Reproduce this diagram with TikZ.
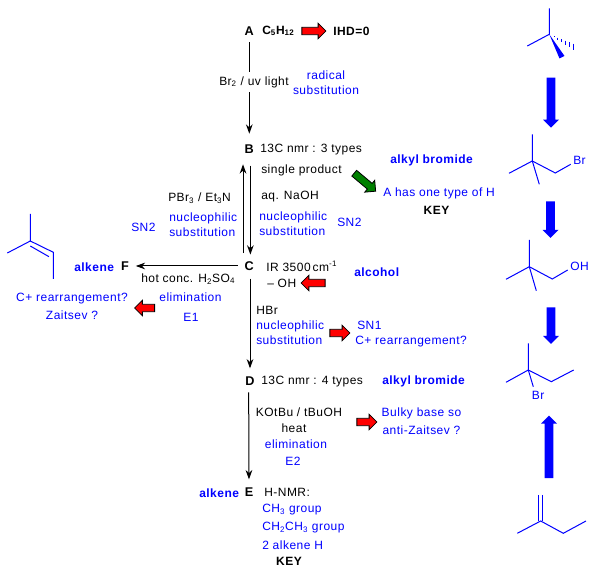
\documentclass[tikz,border=0pt]{standalone}
\usepackage{fontspec}
\setmainfont{Liberation Sans}[LetterSpace=4]
\usetikzlibrary{arrows.meta, shapes.arrows}

\tikzset{
  txt/.style={inner sep=0pt, anchor=west, align=left,
    font=\fontsize{9}{11.25}\selectfont},
  txtc/.style={txt, anchor=center, align=center},
  note/.style={txt, text=blue},
  notec/.style={txtc, text=blue},
  heavy/.style={txt, font=\fontsize{9}{11.25}\selectfont\bfseries},
  heavyblue/.style={heavy, text=blue},
  letter/.style={txtc, inner sep=5pt, font=\fontsize{9.5}{11.25}\selectfont\bfseries},
  rxn/.style={-{Stealth[length=7pt, width=5pt]}, black, line width=0.75pt},
  bond/.style={blue, line width=0.75pt},
  redarrow/.style={single arrow, draw=black, fill=red, line width=0.6pt,
    inner xsep=0pt, inner ysep=2.5pt, minimum height=18pt,
    single arrow head extend=3pt},
  greenarrow/.style={redarrow, fill=green!50!black, minimum height=21pt},
  bluearrow/.style={single arrow, fill=blue, inner xsep=0pt, inner ysep=3pt,
    single arrow head extend=2.8pt},
}

\begin{document}
\begin{tikzpicture}[x=0.75pt, y=-0.75pt, >=Stealth]
  \path[use as bounding box, fill=white] (0,0) rectangle (594,573);

  % --- the letters of the route ---
  \node[letter] (A) at (249.3,31) {A};
  \node[letter] (B) at (249.3,149) {B};
  \node[letter] (C) at (249.3,266) {C};
  \node[letter] (D) at (250,381) {D};
  \node[letter] (E) at (249,492) {E};
  \node[letter] (F) at (125,266) {F};

  % --- reaction arrows ---
  \draw[rxn, shorten >=3pt] (A) -- (B);
  \draw[rxn, shorten <=1pt] ([xshift=-4.7pt]C.north) -- ([xshift=-4.7pt, yshift=-3pt]B.south);
  \draw[rxn, shorten <=1pt] ([xshift=0.8pt, yshift=-3pt]B.south) -- ([xshift=0.8pt]C.north);
  \draw[rxn] (C) -- (F);
  \draw[rxn, shorten >=1pt] ([yshift=-1pt]C.south -| D.south) -- (D.north);
  \draw[rxn, shorten >=1pt] ([xshift=-1pt]D.south) -- (E.north);

  % top
  \node[heavy] (formula) at (262,31) {C\textsubscript{5}H\textsubscript{12}};
  \node[redarrow] (ihdarrow) at (312,31) {};
  \node[heavy] (ihd) at (333,31) {IHD=0};
  \node[txt, fill=white, inner xsep=0pt, inner ysep=3.5pt] (bromine) at (219,82)
    {Br\textsubscript{2} / uv light};
  \node[notec] (radical) at (326,82.5) {radical\\substitution};

  % B
  \node[txt] (nmrthree) at (260,150) {13C nmr : 3 types};
  \node[txt] (single) at (261,170) {single product};
  \node[greenarrow, rotate=-40] (keyarrow) at (363.5,181) {};
  \node[heavyblue] (bromideone) at (390,160) {alkyl bromide};
  \node[note] (onetype) at (383,193) {A has one type of H};
  \node[heavy, anchor=center] (keyone) at (436.5,210) {KEY};

  % B to C and back
  \node[txt] (naoh) at (261,197) {aq. NaOH};
  \node[note] (subone) at (259,223.5) {nucleophilic\\substitution};
  \node[note] (sntwoa) at (337,222) {SN2};
  \node[txt] (pbr) at (168,198) {PBr\textsubscript{3} / Et\textsubscript{3}N};
  \node[note] (subtwo) at (169,225) {nucleophilic\\substitution};
  \node[note] (sntwob) at (131,227) {SN2};

  % C
  \node[txt] (ir) at (266,266) {IR 3500\,cm\textsuperscript{-1}};
  \node[txt] (oh) at (267,283) {-- OH};
  \node[redarrow, rotate=180] (oharrow) at (315,283) {};
  \node[heavyblue] (alcohol) at (354,272) {alcohol};

  % F
  \node[heavyblue] (alkenef) at (74,267) {alkene};
  \node[txt] (acid) at (141,279) {hot conc. H\textsubscript{2}SO\textsubscript{4}};
  \node[notec] (elimone) at (190.5,297) {elimination};
  \node[notec] (eone) at (191,317) {E1};
  \node[notec] (rearrone) at (72,306.5) {C+ rearrangement?\\[2pt]Zaitsev ?};
  \node[redarrow, rotate=180, minimum height=15pt] (zaitarrow) at (146.5,308) {};

  % C to D
  \node[txt] (hbr) at (256,310) {HBr};
  \node[note] (subthree) at (256,332.5) {nucleophilic\\substitution};
  \node[redarrow, minimum height=15pt] (snarrow) at (338,333) {};
  \node[note] (snone) at (357,325) {SN1};
  \node[note] (rearrtwo) at (355,342) {C+ rearrangement?};

  % D
  \node[txt] (nmrfour) at (261,382) {13C nmr : 4 types};
  \node[heavyblue] (bromidetwo) at (382,381) {alkyl bromide};
  \node[txtc] (kotbu) at (299,412) {KOtBu / tBuOH};
  \node[txtc] (heat) at (294,428) {heat};
  \node[notec] (elimtwo) at (296,444) {elimination};
  \node[notec] (etwo) at (293,461) {E2};
  \node[redarrow, minimum height=15pt] (bulkyarrow) at (365,422) {};
  \node[notec] (bulky) at (421.5,421.5) {Bulky base so\\[2pt]anti-Zaitsev ?};

  % E
  \node[heavyblue] (alkenee) at (199,493) {alkene};
  \node[txt] (hnmr) at (264,492) {H-NMR:};
  \node[note] (methyl) at (262,510) {CH\textsubscript{3} group};
  \node[note] (ethyl) at (262,528) {CH\textsubscript{2}CH\textsubscript{3} group};
  \node[note] (alkeneh) at (262,545) {2 alkene H};
  \node[heavy, anchor=center] (keytwo) at (289,561) {KEY};

  % --- alkene on the left ---
  \draw[bond] (30.3,214) -- (30.3,241) -- (7.3,253);
  \draw[bond] (30.3,241) -- (53.3,252.3) -- (53.3,279);
  \draw[bond] (30.3,246) -- (49,256.7);

  % --- column of structures ---
  \draw[bond] (549.3,8.3) -- (549.3,34.3) -- (527.3,46);
  \fill[blue] (549.3,34.3) -- (559.5,58.5) -- (564.5,56) -- cycle;
  \foreach \t in {0.2,0.36,0.52,0.68,0.84,1}
    \draw[bond] ({549.3+24*\t},{34.3+12.4*\t-3*\t}) -- ({549.3+24*\t},{34.3+12.4*\t+3*\t});
  \node[bluearrow, rotate=-90, minimum height=37.5pt] (stepone) at (551,100.5) {};

  \draw[bond] (532.3,134.3) -- (532.3,161) -- (509,173.3);
  \draw[bond] (532.3,161) -- (539.3,184.3);
  \draw[bond] (532.3,161) -- (555.3,173) -- (570.7,164.3);
  \node[note] (brone) at (573,160) {Br};
  \node[bluearrow, rotate=-90, minimum height=27.5pt] (steptwo) at (550.5,217.5) {};

  \draw[bond] (529.3,240) -- (529.3,266.7) -- (506,279.3);
  \draw[bond] (529.3,266.7) -- (536.3,290.7);
  \draw[bond] (529.3,266.7) -- (552.3,279) -- (567.7,270);
  \node[note] (hydroxyl) at (570,266) {OH};
  \node[bluearrow, rotate=-90, minimum height=27.5pt] (stepthree) at (551,323.5) {};

  \draw[bond] (528.3,343.3) -- (528.3,370) -- (506,382.3);
  \draw[bond] (528.3,370) -- (533.3,386.7);
  \draw[bond] (528.3,370) -- (551.3,381.7) -- (573.7,370);
  \node[note] (brtwo) at (531.7,395) {Br};
  \node[bluearrow, rotate=90, minimum height=47pt] (stepfour) at (549,449) {};

  \draw[bond] (538.3,495) -- (538.3,521);
  \draw[bond] (542.3,495) -- (542.3,521);
  \draw[bond] (517.3,533.3) -- (540.7,521) -- (563.3,533.3) -- (586,521);

\end{tikzpicture}
\end{document}
